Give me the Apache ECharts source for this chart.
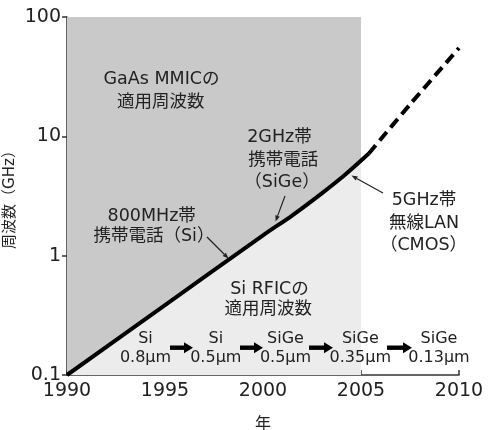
<!DOCTYPE html>
<html><head><meta charset="utf-8">
<script src="https://cdn.jsdelivr.net/npm/echarts@6/dist/echarts.min.js"></script>
<style>html,body{margin:0;padding:0;background:#fff}#c{width:488px;height:430px}</style>
</head><body><div id="c"></div>
<script>
// ---- data ----
const xTickYears = [1990, 1995, 2000, 2005, 2010];
const yTickGHz = [0.1, 1, 10, 100];
const regionYears = [1990, 2005];          // GaAs / Si RFIC band (shaded)
const regionTopGHz = [100, 100];
const curveYears = [1990, 1995, 2000, 2001.5, 2003, 2004.2, 2005.4];   // Si RFIC limit (solid)
const curveGHz   = [0.1, 0.385, 1.48, 2.18, 3.33, 4.79, 7.18];
const fillYears = [1990, 1995, 2000, 2001.5, 2003, 2004.2, 2005];      // Si RFIC area (to 2005)
const fillGHz   = [0.1, 0.385, 1.48, 2.18, 3.33, 4.79, 6.3];
const forecastYears = [2005.4, 2007.5, 2010]; // projected (dashed)
const forecastGHz   = [7.18, 18.5, 55];
const processTop = ['Si', 'Si', 'SiGe', 'SiGe', 'SiGe'];
const processBottom = ['0.8μm', '0.5μm', '0.5μm', '0.35μm', '0.13μm'];

// ---- chart ----
const FONT = "'DejaVu Sans','Noto Sans CJK JP',sans-serif";
const TXT = '#222';
const chart = echarts.init(document.getElementById('c'), null, {renderer: 'canvas'});
const zip = (a, b) => a.map((v, i) => [v, b[i]]);

function txt(t, x, y, size) {
  return {type: 'text', x: x, y: y, z: 100,
    style: {text: t, fontSize: size, fontFamily: FONT, fill: TXT, align: 'center', verticalAlign: 'middle'}};
}
function leader(x1, y1, x2, y2) {
  const dx = x2 - x1, dy = y2 - y1, L = Math.hypot(dx, dy), ux = dx / L, uy = dy / L;
  const hl = 6, hw = 2.3, bx = x2 - ux * hl, by = y2 - uy * hl;
  return [
    {type: 'line', z: 100, shape: {x1: x1, y1: y1, x2: bx, y2: by}, style: {stroke: TXT, lineWidth: 1.2}},
    {type: 'polygon', z: 100, shape: {points: [[x2, y2], [bx - uy * hw, by + ux * hw], [bx + uy * hw, by - ux * hw]]}, style: {fill: TXT}}
  ];
}
function bigArrow(x1, x2, y) {
  return [
    {type: 'rect', z: 100, shape: {x: x1, y: y - 2.2, width: x2 - x1 - 8, height: 4.4}, style: {fill: '#000'}},
    {type: 'polygon', z: 100, shape: {points: [[x2 - 9, y - 5.5], [x2, y], [x2 - 9, y + 5.5]]}, style: {fill: '#000'}}
  ];
}

const procX = [145.5, 215.8, 285.5, 360.3, 439];
const arrowX = [[170, 193], [240, 263], [309, 333], [387, 412]];
let graphics = [
  txt('GaAs MMICの', 161.5, 79, 17.5),
  txt('適用周波数', 160.7, 102, 17.5),
  txt('2GHz帯', 279.5, 137, 17.5),
  txt('携帯電話', 283.3, 160, 17.5),
  txt('（SiGe）', 282, 182.5, 17.5),
  txt('800MHz帯', 151.7, 216, 17.5),
  txt('携帯電話（Si）', 154, 236, 17.5),
  txt('Si RFICの', 269.5, 289.5, 17.5),
  txt('適用周波数', 268.3, 309.5, 17.5),
  txt('5GHz帯', 424, 200.5, 17.5),
  txt('無線LAN', 424, 223, 17.5),
  txt('（CMOS）', 423.5, 245.5, 17.5)
];
graphics = graphics.concat(leader(207, 237, 228.5, 258.5));
graphics = graphics.concat(leader(285, 196, 275.5, 221.5));
graphics = graphics.concat(leader(383, 193, 351.5, 175.5));
processTop.forEach((t, i) => {
  graphics.push(txt(t, procX[i], 338.5, 16));
  graphics.push(txt(processBottom[i], procX[i], 358, 16));
});
arrowX.forEach(a => { graphics = graphics.concat(bigArrow(a[0], a[1], 347.7)); });

const fmt = v => String(+(+v).toPrecision(3));

chart.setOption({
  animation: false,
  backgroundColor: '#fff',
  grid: {left: 67, right: 29, top: 17, bottom: 55, containLabel: false, outerBoundsMode: 'none'},
  xAxis: {
    type: 'value', min: xTickYears[0], max: xTickYears[xTickYears.length - 1], interval: 5,
    name: '年', nameLocation: 'middle', nameGap: 42, nameMoveOverlap: false,
    nameTextStyle: {fontSize: 16, color: TXT, fontFamily: FONT},
    axisLine: {show: true, onZero: false, lineStyle: {color: '#333', width: 1.5}},
    axisTick: {show: true, inside: true, length: 5, lineStyle: {color: '#333', width: 1.5}},
    axisLabel: {fontSize: 19, color: TXT, margin: 7, fontFamily: FONT, showMinLabel: true, showMaxLabel: true,
      formatter: v => String(v)},
    splitLine: {show: false}
  },
  yAxis: {
    type: 'log', logBase: 10, min: yTickGHz[0], max: yTickGHz[yTickGHz.length - 1],
    name: '周波数（GHz）', nameLocation: 'middle', nameGap: 49, nameMoveOverlap: false,
    nameTextStyle: {fontSize: 15, color: TXT, fontFamily: FONT},
    axisLine: {show: true, onZero: false, lineStyle: {color: '#333', width: 1.5}},
    axisTick: {show: true, inside: false, length: 5, lineStyle: {color: '#333', width: 1.5}},
    axisLabel: {fontSize: 19, color: TXT, margin: 6, fontFamily: FONT, showMinLabel: true, showMaxLabel: true,
      formatter: fmt},
    splitLine: {show: false},
    minorTick: {show: false}
  },
  series: [
    {type: 'line', name: 'GaAs MMIC', data: zip(regionYears, regionTopGHz), symbol: 'none',
      lineStyle: {width: 0}, areaStyle: {color: '#c9c9c9', opacity: 1, origin: 'start'}, z: 1, silent: true},
    {type: 'line', name: 'Si RFIC', data: zip(fillYears, fillGHz), symbol: 'none', smooth: 0.3,
      lineStyle: {width: 0}, areaStyle: {color: '#ececec', opacity: 1, origin: 'start'}, z: 2, silent: true},
    {type: 'line', name: 'limit', data: zip(curveYears, curveGHz), symbol: 'none', smooth: 0.3,
      lineStyle: {width: 4, color: '#000', cap: 'butt'}, z: 3, silent: true},
    {type: 'line', name: 'forecast', data: zip(forecastYears, forecastGHz), symbol: 'none', smooth: 0.3,
      lineStyle: {width: 4, color: '#000', type: [11, 6], cap: 'butt'}, z: 3, silent: true}
  ],
  graphic: graphics
});
</script>
</body></html>
